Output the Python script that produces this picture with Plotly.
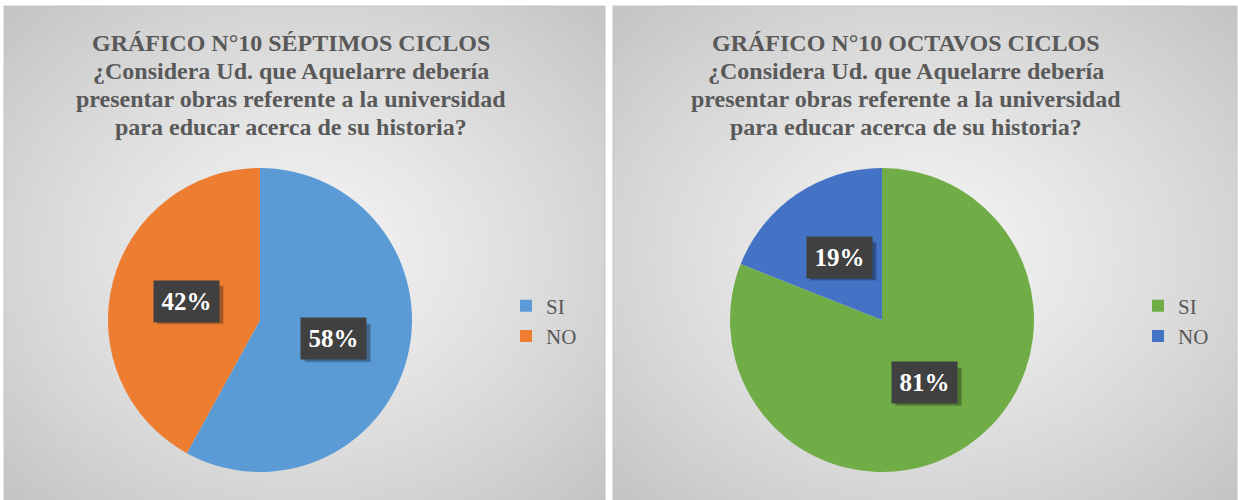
import base64, math, struct, zlib
import numpy as np
import plotly.graph_objects as go

# ---------------- data ----------------
categories = ["SI", "NO"]
septimos_values = [58, 42]
octavos_values = [81, 19]
septimos_colors = ["#5B9BD5", "#ED7D31"]
octavos_colors = ["#70AD47", "#4472C4"]
title_sep = ["GRÁFICO N°10 SÉPTIMOS CICLOS",
             "¿Considera Ud. que Aquelarre debería",
             "presentar obras referente a la universidad",
             "para educar acerca de su historia?"]
title_oct = ["GRÁFICO N°10 OCTAVOS CICLOS",
             "¿Considera Ud. que Aquelarre debería",
             "presentar obras referente a la universidad",
             "para educar acerca de su historia?"]

W, H = 1238, 500
SERIF = "'Liberation Serif', 'Times New Roman', 'DejaVu Serif', serif"


def png_data_uri(arr):
    h, w, _ = arr.shape
    raw = b"".join(b"\x00" + arr[i].tobytes() for i in range(h))
    def chunk(t, d):
        c = struct.pack(">I", len(d)) + t + d
        return c + struct.pack(">I", zlib.crc32(t + d) & 0xffffffff)
    png = b"\x89PNG\r\n\x1a\n" + chunk(b"IHDR", struct.pack(">IIBBBBB", w, h, 8, 2, 0, 0, 0)) \
        + chunk(b"IDAT", zlib.compress(raw, 9)) + chunk(b"IEND", b"")
    return "data:image/png;base64," + base64.b64encode(png).decode()


def gradient(w=200, h=160):
    yy, xx = np.mgrid[0:h, 0:w]
    dx = (xx - (w - 1) / 2) / (w / 2)
    dy = (yy - (h - 1) / 2) / (h / 2)
    d = np.clip(np.sqrt(dx ** 2 + dy ** 2) / math.sqrt(2), 0, 1)
    v = 244 - (244 - 196) * d ** 1.25
    g = np.clip(v, 0, 255).astype(np.uint8)
    return np.stack([g, g, g], axis=-1)


grad_uri = png_data_uri(gradient())

panels = [(4, 605), (613, 1237)]  # pixel x-ranges of the two chart areas
PANEL_TOP = 6

fig = go.Figure()

pies = [
    dict(values=septimos_values, colors=septimos_colors, cx=260, cy=320, r=152,
         legend="legend", group="sep", title=title_sep, tcx=291),
    dict(values=octavos_values, colors=octavos_colors, cx=882, cy=320, r=152,
         legend="legend2", group="oct", title=title_oct, tcx=906),
]

shapes, images, annotations = [], [], []
for (x0, x1) in panels:
    images.append(dict(source=grad_uri, xref="paper", yref="paper",
                       x=x0 / W, y=1 - PANEL_TOP / H, sizex=(x1 - x0) / W,
                       sizey=(H - PANEL_TOP + 2) / H, sizing="stretch",
                       xanchor="left", yanchor="top", layer="below"))
    shapes.append(dict(type="rect", xref="paper", yref="paper",
                       x0=x0 / W, x1=x1 / W, y0=-0.01, y1=1 - PANEL_TOP / H,
                       line=dict(color="#c4c4c4", width=1), fillcolor="rgba(0,0,0,0)",
                       layer="below"))

BOX_W, BOX_H = 65, 37
for p in pies:
    cx, cy, r = p["cx"], p["cy"], p["r"]
    fig.add_trace(go.Pie(
        labels=categories, values=p["values"], sort=False, direction="clockwise",
        rotation=0, textinfo="none", hoverinfo="label+percent",
        marker=dict(colors=p["colors"], line=dict(width=0)),
        domain=dict(x=[(cx - r) / W, (cx + r) / W], y=[(H - cy - r) / H, (H - cy + r) / H]),
        legend=p["legend"], legendgroup=p["group"], showlegend=True,
    ))
    total = sum(p["values"])
    cum = 0
    for v in p["values"]:
        mid = (cum + v / 2) / total * 2 * math.pi
        cum += v
        px = cx + 0.5 * r * math.sin(mid)
        py = cy - 0.5 * r * math.cos(mid)
        txt = f"{round(v / total * 100)}%"
        # soft drop shadow behind the label box
        for k, a in [(0, 0.22), (1, 0.12)]:
            shapes.append(dict(type="rect", xref="paper", yref="paper",
                               xsizemode="pixel", ysizemode="pixel",
                               xanchor=px / W, yanchor=1 - py / H,
                               x0=-BOX_W / 2 + 4 - k, x1=BOX_W / 2 + 4 + k,
                               y0=-BOX_H / 2 - 4 - k, y1=BOX_H / 2 - 4 + k,
                               line=dict(width=0), fillcolor=f"rgba(0,0,0,{a})"))
        annotations.append(dict(x=px / W, y=1 - py / H, xref="paper", yref="paper",
                                text=f"<b>{txt}</b>", showarrow=False,
                                xanchor="center", yanchor="middle", borderpad=7, width=51,
                                font=dict(family=SERIF, size=25, color="white"),
                                bgcolor="#404040"))
    for i, line in enumerate(p["title"]):
        ly = [43, 71, 99, 127][i]
        annotations.append(dict(x=p["tcx"] / W, y=1 - ly / H, xref="paper", yref="paper",
                                text=f"<b>{line}</b>", showarrow=False,
                                xanchor="center", yanchor="middle",
                                font=dict(family=SERIF, size=24, color="#595959")))

legend_common = dict(font=dict(family=SERIF, size=21, color="#595959"),
                     bgcolor="rgba(0,0,0,0)", yanchor="middle", xanchor="left",
                     y=1 - 321 / H, itemclick=False)

fig.update_layout(
    width=W, height=H, margin=dict(l=0, r=0, t=0, b=0),
    paper_bgcolor="white", plot_bgcolor="white",
    font=dict(family=SERIF),
    shapes=shapes, images=images, annotations=annotations,
    legend=dict(x=506 / W, **legend_common),
    legend2=dict(x=1138 / W, **legend_common),
)

fig.write_html("out.html", config={"displayModeBar": False})
with open("out.html", encoding="utf-8") as f:
    html = f.read()
html = html.replace("<body>", '<body style="margin:0;padding:0">', 1)
with open("out.html", "w", encoding="utf-8") as f:
    f.write(html)
